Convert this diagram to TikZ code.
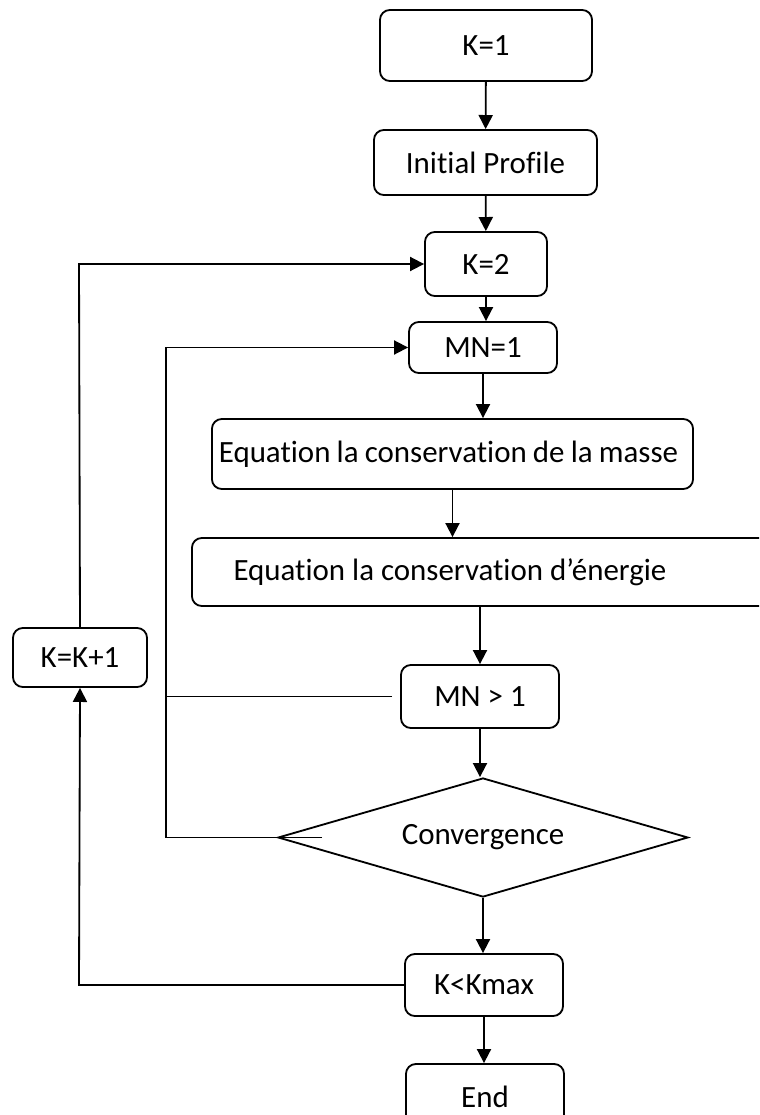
\documentclass[tikz,border=0pt]{standalone}
\usepackage{fontspec}
\setmainfont[Ligatures=NoCommon]{Carlito}
\usetikzlibrary{arrows.meta,shapes.geometric}
\tikzset{
  bloc/.style={draw,rounded corners=7pt,line width=1.3pt,align=center},
  fleche/.style={line width=1.3pt,-{Triangle[length=10pt,width=10pt]}},
  trait/.style={line width=1.3pt}
}
\begin{document}
\begin{tikzpicture}[x=0.025cm,y=-0.025cm,font=\fontsize{22}{26}\selectfont]
            \clip (0,0) rectangle (759,1115);
            \fill[white] (0,0) rectangle (759,1115);
            % colonne principale
            \node[bloc,minimum width=5.3cm,minimum height=1.775cm] (k1) at (486,45.5) {K=1};
            \node[bloc,minimum width=5.575cm,minimum height=1.625cm] (init) at (485.5,162.5) {Initial Profile};
            \node[bloc,minimum width=3.05cm,minimum height=1.6cm] (k2) at (486,264) {K=2};
            \node[bloc,minimum width=3.7cm,minimum height=1.275cm] (mn1) at (483,347.5) {MN=1};
            \node[bloc,minimum width=12.025cm,minimum height=1.75cm] (masse) at (452.5,454) {\spaceskip=0.2em plus 0.05em\relax Equation la conservation de la masse\hspace*{0.2cm}};
            \node[bloc,minimum width=14.95cm,minimum height=1.7cm] (ener) at (491,572) {Equation la conservation d’énergie\hspace*{2.05cm}};
            \node[bloc,minimum width=3.95cm,minimum height=1.575cm] (mn2) at (480,696.5) {MN > 1};
            \node[draw,diamond,shape aspect=3.45,line width=1.3pt,inner sep=0pt,minimum width=10.25cm,minimum height=2.975cm] (conv) at (483,837.5) {Convergence};
            \node[bloc,minimum width=3.95cm,minimum height=1.55cm] (kmax) at (484,985) {K<Kmax};
            \node[bloc,minimum width=3.95cm,minimum height=1.65cm] (fin) at (485,1097) {End};
            \node[bloc,minimum width=3.35cm,minimum height=1.475cm] (kk1) at (80,657.5) {K=K+1};
            \coordinate (bext) at (79,0);
            \coordinate (bint) at (166,0);
            \coordinate (convin) at (322,837.5);
            % liaisons
            \draw[fleche] (k1) -- (init);
            \draw[fleche] (init) -- (k2);
            \draw[fleche] (k2.south) -- (k2.south |- mn1.north);
            \draw[fleche] (mn1.south) -- (mn1.south |- masse.north);
            \draw[fleche] (masse.south) -- (masse.south |- ener.north);
            \draw[fleche] (mn2.north |- ener.south) -- (mn2.north);
            \draw[fleche] (mn2.south) -- (mn2.south |- conv.north);
            \draw[fleche] (conv.south) -- (conv.south |- kmax.north);
            \draw[fleche] (kmax.south) -- (kmax.south |- fin.north);
            % boucles
            \draw[fleche] (kmax.west) -- (bext |- kmax.west) -- (kk1.south);
            \draw[fleche] (kk1.north) -- (bext |- k2.west) -- (k2.west);
            \draw[fleche] (convin) -- (bint |- conv.west) |- (mn1.west);
            \draw[trait,shorten <=0.2cm] (mn2.west) -- (bint |- mn2.west);%rejoint la boucle
        \end{tikzpicture}
\end{document}
